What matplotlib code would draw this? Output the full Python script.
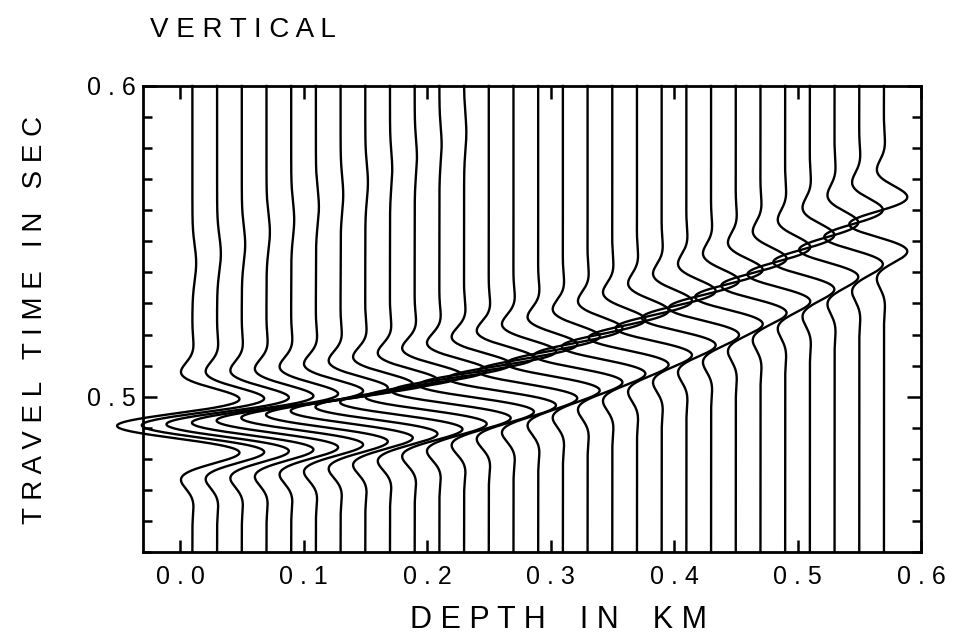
import numpy as np
import matplotlib
matplotlib.use("Agg")
import matplotlib.pyplot as plt
from matplotlib.ticker import MultipleLocator

plt.rcParams['font.family'] = ['Liberation Sans', 'DejaVu Sans']

# receiver depths (km)
depths = [0.01, 0.03, 0.05, 0.07, 0.09, 0.11, 0.13, 0.15, 0.17, 0.19,
          0.21, 0.23, 0.25, 0.27, 0.29, 0.31, 0.33, 0.35, 0.37, 0.39,
          0.41, 0.43, 0.45, 0.47, 0.49, 0.51, 0.53, 0.55, 0.57]

# direct arrival time at each receiver (s)
arrivals = [0.4906, 0.4908, 0.4911, 0.4916, 0.4923, 0.4932, 0.4942, 0.4954,
            0.4967, 0.4982, 0.4999, 0.5018, 0.5038, 0.5059, 0.5082, 0.5107,
            0.5133, 0.5161, 0.5190, 0.5221, 0.5253, 0.5286, 0.5321, 0.5357,
            0.5394, 0.5433, 0.5473, 0.5514, 0.5555]

# relative trace amplitude
amps = [1.00, 1.00, 1.00, 0.99, 0.99, 0.99, 0.99, 0.99, 0.99, 0.99,
        0.98, 0.96, 0.93, 0.87, 0.80, 0.75, 0.71, 0.67, 0.64, 0.61,
        0.59, 0.56, 0.54, 0.52, 0.50, 0.485, 0.47, 0.465, 0.46]

# pulse width of each trace (s), slightly broader with depth
widths = [0.0132, 0.0132, 0.0132, 0.0133, 0.0133, 0.0134, 0.0134, 0.0135,
          0.0135, 0.0136, 0.0136, 0.0137, 0.0137, 0.0138, 0.0138, 0.0139,
          0.0139, 0.0140, 0.0140, 0.0141, 0.0141, 0.0142, 0.0142, 0.0143,
          0.0143, 0.0144, 0.0144, 0.0145, 0.0145]

# weak later bump on the shallow traces
late_times = [0.543, 0.546, 0.549, 0.553, 0.557, 0.561, 0.565, 0.569,
              0.573, 0.577, 0.581, 0.585]
late_amps = [0.05, 0.05, 0.045, 0.045, 0.04, 0.04, 0.035, 0.035,
             0.03, 0.03, 0.03, 0.03]

gain = 0.061      # km of deflection for unit amplitude
freq = 52.6       # Hz


def wavelet(tau, width):
    return -np.cos(2 * np.pi * freq * tau) * np.exp(-(tau / width) ** 2)


def bump(tau):
    return np.exp(-(tau / 0.008) ** 2)


t = np.linspace(0.45, 0.60, 1500)

fig = plt.figure(figsize=(9.57, 6.40), dpi=100)
ax = fig.add_axes([143 / 957, 1 - 552 / 640, (921 - 143) / 957, (552 - 86) / 640])

for i, (d, t0, a, w) in enumerate(zip(depths, arrivals, amps, widths)):
    x = d + gain * a * wavelet(t - t0, w)
    if i < len(late_times):
        x = x + gain * late_amps[i] * bump(t - late_times[i])
    ax.plot(x, t, color='black', lw=1.7, clip_on=False, solid_joinstyle='round')

ax.set_xlim(-0.03, 0.6)
ax.set_ylim(0.45, 0.6)

ax.set_xticks([0.0, 0.1, 0.2, 0.3, 0.4, 0.5, 0.6])
ax.set_xticklabels(['0 . 0', '0 . 1', '0 . 2', '0 . 3', '0 . 4', '0 . 5', '0 . 6'])
ax.yaxis.set_minor_locator(MultipleLocator(0.01))
ax.set_yticks([0.5, 0.6])
ax.set_yticklabels(['0 . 5', '0 . 6'])

ax.tick_params(which='both', direction='in', top=True, right=True,
               width=1.8, labelsize=18, color='black')
ax.tick_params(axis='x', which='major', length=9, pad=9)
ax.tick_params(axis='y', which='major', length=10, pad=5)
ax.tick_params(axis='y', which='minor', length=6.5)
for s in ax.spines.values():
    s.set_linewidth(2)

fig.text(150 / 957, 1 - 30 / 640, 'V E R T I C A L', fontsize=20, va='center', ha='left')
fig.text(35 / 957, 1 - 320 / 640, 'T R A V E L   T I M E   I N   S E C',
         fontsize=20, rotation=90, va='center', ha='center')
fig.text(558 / 957, 1 - 620 / 640, 'D E P T H    I N    K M', fontsize=22,
         va='center', ha='center')

fig.savefig('out.png', dpi=100)
